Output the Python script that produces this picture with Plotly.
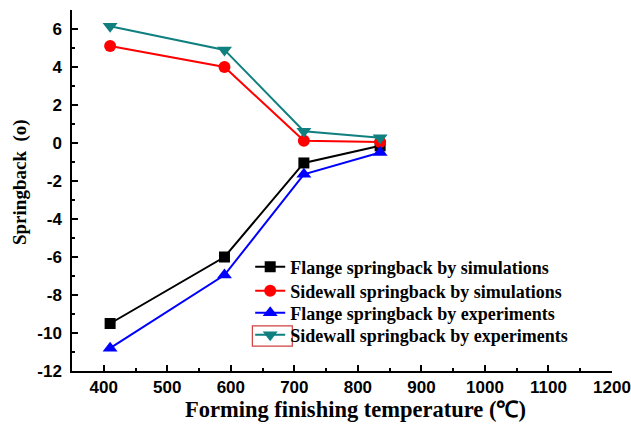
import plotly.graph_objects as go

# Forming finishing temperature (°C) and measured/simulated springback (degrees)
temperature = [410, 590, 715, 835]
flange_sim = [-9.5, -6.0, -1.05, -0.15]
sidewall_sim = [5.1, 4.0, 0.12, 0.05]
flange_exp = [-10.8, -6.95, -1.65, -0.5]
sidewall_exp = [6.15, 4.9, 0.62, 0.28]

x_ticks = [400, 500, 600, 700, 800, 900, 1000, 1100, 1200]
y_ticks = [-12, -10, -8, -6, -4, -2, 0, 2, 4, 6]

series = [
    ("Flange springback by simulations", flange_sim, "#000000", "square", 11),
    ("Sidewall springback by simulations", sidewall_sim, "#ff0000", "circle", 12),
    ("Flange springback by experiments", flange_exp, "#0000ff", "triangle-up", 13),
    ("Sidewall springback by experiments", sidewall_exp, "#0f7f7f", "triangle-down", 13),
]

serif = "Liberation Serif, Times New Roman, serif"
legend_font = dict(family=serif, size=18, color="#000")
# one legend box per series so the rows can be packed tightly
legend_rows = [0.288, 0.2216, 0.1607, 0.0997]

fig = go.Figure()
layout_legends = {}
for i, (name, vals, color, symbol, size) in enumerate(series):
    key = "legend" if i == 0 else f"legend{i + 1}"
    fig.add_trace(go.Scatter(
        x=temperature, y=vals, name=f"<b>{name}</b>", mode="lines+markers",
        line=dict(color=color, width=2),
        marker=dict(symbol=symbol, size=size, color=color),
        legend=key,
    ))
    layout_legends[key] = dict(
        x=0.33, y=legend_rows[i], xanchor="left", yanchor="middle",
        bgcolor="rgba(0,0,0,0)", borderwidth=0, font=legend_font, itemwidth=30,
    )

tick_font = dict(family="Liberation Sans, Arial, sans-serif", size=17, color="#000")
title_font = dict(family=serif, size=22.5, color="#000")

fig.update_layout(
    width=631, height=427,
    margin=dict(l=72, r=19, t=10, b=56, autoexpand=False),
    paper_bgcolor="white", plot_bgcolor="white",
    showlegend=True,
    xaxis=dict(
        range=[350, 1200], tickvals=x_ticks, ticktext=[f"<b>{v}</b>" for v in x_ticks],
        automargin=False,
        showgrid=False, zeroline=False, showline=True, linecolor="#000", linewidth=1.5,
        ticks="inside", ticklen=6, tickwidth=1.5, tickcolor="#000",
        minor=dict(dtick=50, ticks="inside", ticklen=3, tickwidth=1.5, tickcolor="#000", showgrid=False),
        tickfont=tick_font,
    ),
    yaxis=dict(
        range=[-12, 7], tickvals=y_ticks, ticktext=[f"<b>{v}</b>" for v in y_ticks],
        automargin=False, ticklabelstandoff=5,
        showgrid=False, zeroline=False, showline=True, linecolor="#000", linewidth=1.5,
        ticks="inside", ticklen=6, tickwidth=1.5, tickcolor="#000",
        minor=dict(dtick=1, ticks="inside", ticklen=3, tickwidth=1.5, tickcolor="#000", showgrid=False),
        tickfont=tick_font,
    ),
    **layout_legends,
)

# Axis titles
fig.add_annotation(text="<b>Forming finishing temperature (℃)</b>", xref="paper", yref="paper",
                   x=0.525, y=0, yanchor="middle", yshift=-38, showarrow=False, font=title_font)
fig.add_annotation(text="<b>Springback  (o)</b>", xref="paper", yref="paper", textangle=-90,
                   x=0, y=0.5235, xanchor="center", xshift=-52, showarrow=False,
                   font=dict(family=serif, size=19, color="#000"))

# Selection frame around the last legend entry's symbol
fig.add_shape(type="rect", xref="paper", yref="paper",
              x0=0.334, x1=0.408, y0=0.069, y1=0.125,
              line=dict(color="#d04040", width=1.2))

fig.write_html("out.html")
